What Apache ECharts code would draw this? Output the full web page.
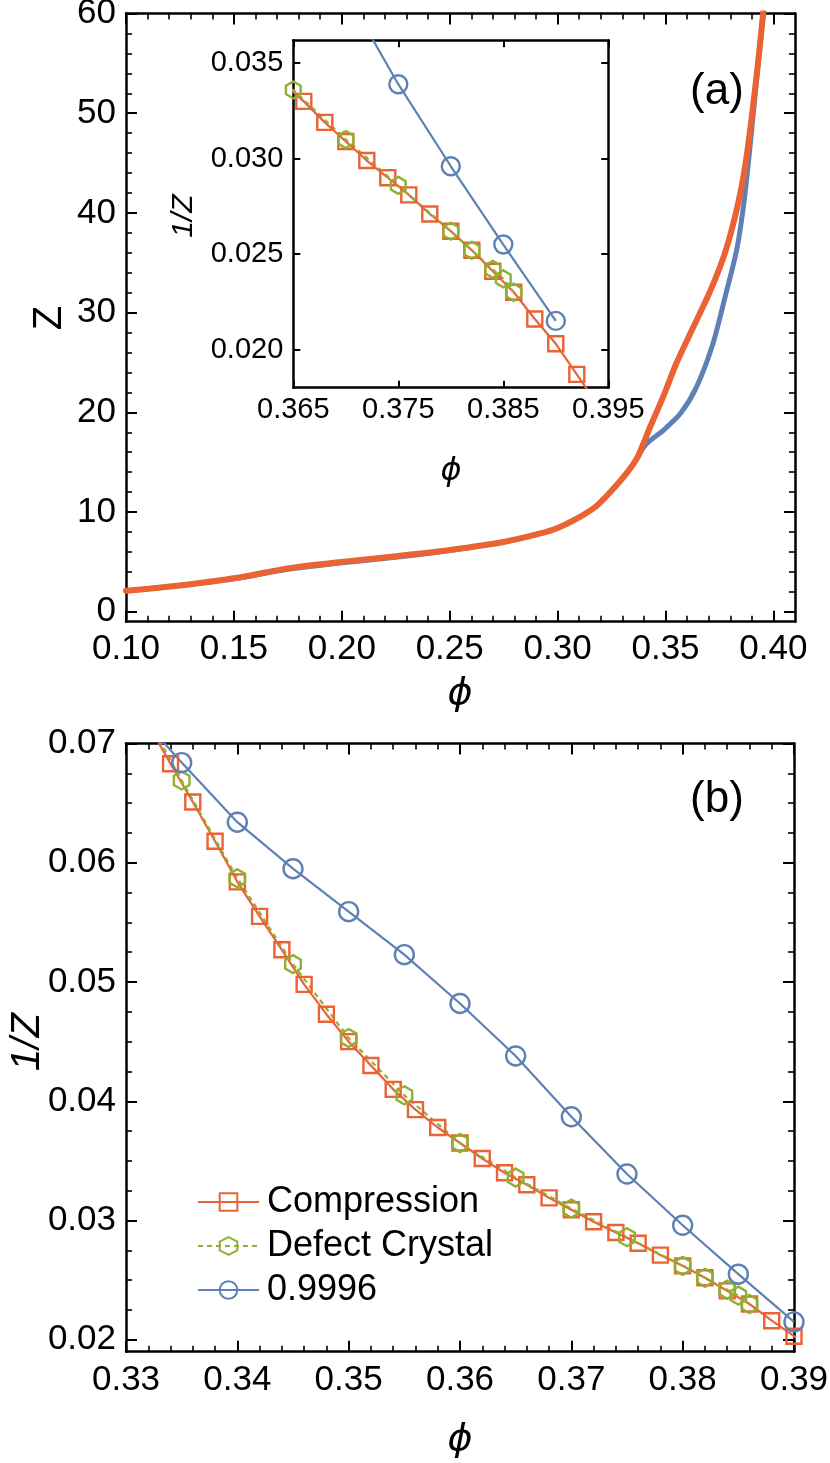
<!DOCTYPE html>
<html>
<head>
<meta charset="utf-8">
<title>Z and 1/Z versus packing fraction</title>
<script src="https://cdn.jsdelivr.net/npm/echarts@6/dist/echarts.min.js"></script>
<style>
  html, body { margin: 0; padding: 0; background: #fff; }
  #chart { width: 830px; height: 1463px; }
</style>
</head>
<body>
<div id="chart"></div>
<script>
// panel (a): Z against phi
const aCompPhi = [0.100, 0.115, 0.128, 0.150, 0.175, 0.200, 0.226, 0.250, 0.275, 0.292,
  0.300, 0.311, 0.318, 0.324, 0.332, 0.337, 0.343, 0.349, 0.355, 0.363,
  0.371, 0.378, 0.384, 0.388, 0.3935, 0.397];
const aCompZ = [2.1, 2.4, 2.7, 3.35, 4.35, 5.0, 5.6, 6.2, 7.0, 7.85,
  8.4, 9.6, 10.6, 11.9, 13.9, 15.5, 18.6, 21.6, 24.9, 28.6,
  32.3, 36.3, 41.3, 46.3, 56.3, 64];
const aFitPhi = [0.100, 0.115, 0.128, 0.150, 0.175, 0.200, 0.226, 0.250, 0.275, 0.292,
  0.300, 0.311, 0.318, 0.324, 0.332, 0.337, 0.3395, 0.343, 0.349, 0.357,
  0.3645, 0.372, 0.378, 0.383, 0.3865, 0.389, 0.3925, 0.396, 0.398];
const aFitZ = [2.1, 2.4, 2.7, 3.3, 4.25, 4.9, 5.5, 6.15, 7.0, 7.85,
  8.4, 9.6, 10.6, 11.9, 13.9, 15.4, 16.4, 17.2, 18.2, 19.9,
  22.6, 26.9, 31.9, 36.3, 41.3, 46.3, 54, 61.5, 66];

// panel (b) and the inset: 1/Z against phi
const compPhi = [0.332, 0.334, 0.336, 0.338, 0.340, 0.342, 0.344, 0.346, 0.348, 0.350,
  0.352, 0.354, 0.356, 0.358, 0.360, 0.362, 0.364, 0.366, 0.368, 0.370,
  0.372, 0.374, 0.376, 0.378, 0.380, 0.382, 0.384, 0.386, 0.388, 0.390,
  0.392, 0.394];
const compInvZ = [0.0716, 0.0683, 0.0651, 0.0618, 0.0584, 0.0555, 0.0527, 0.0498, 0.0473, 0.0450,
  0.0430, 0.0410, 0.0393, 0.0378, 0.0365, 0.0352, 0.0340, 0.0330, 0.0319, 0.0309,
  0.0299, 0.0290, 0.0281, 0.0271, 0.0262, 0.0252, 0.0241, 0.0230, 0.0216, 0.0203,
  0.0187, 0.0171];
const defectPhi = [0.333, 0.335, 0.340, 0.345, 0.350, 0.355, 0.360, 0.365, 0.370, 0.375,
  0.380, 0.382, 0.384, 0.385, 0.386];
const defectInvZ = [0.0703, 0.0669, 0.0587, 0.0515, 0.0453, 0.0405, 0.0365, 0.0336, 0.0310, 0.0286,
  0.0262, 0.0252, 0.0242, 0.0237, 0.0230];
const fitPhi = [0.330, 0.335, 0.340, 0.345, 0.350, 0.355, 0.360, 0.365, 0.370, 0.375,
  0.380, 0.385, 0.390];
const fitInvZ = [0.0736, 0.0684, 0.0634, 0.0595, 0.0559, 0.0523, 0.0482, 0.0438, 0.0387, 0.0339,
  0.0296, 0.0255, 0.0215];

const legendNames = ['Compression', 'Defect Crystal', '0.9996'];
const insetXLabels = ['0.365', '0.375', '0.385', '0.395'];

const FONT = '"Liberation Sans", Arial, sans-serif';
const ORANGE = '#EB6235';
const BLUE = '#5E81B5';
const GREEN = '#8FB131';
const HEX = 'path://M0,-10L8.66,-5L8.66,5L0,10L-8.66,5L-8.66,-5Z';
const CLEAR = 'rgba(0,0,0,0)';

// plot boxes in px
const boxA = { left: 126, top: 13.5, width: 669, height: 608.2 };
const boxIn = { left: 293.3, top: 40.3, width: 315, height: 347.4 };
const boxB = { left: 126, top: 743.5, width: 668, height: 608.2 };
const rangeAX = [0.10, 0.41], rangeAY = [-1, 60];
const rangeInX = [0.365, 0.395], rangeInY = [0.018, 0.0362];
const rangeBX = [0.33, 0.39], rangeBY = [0.019, 0.07];

// a box covering only the labelled part of an axis, so the ticks start on a round value
function xPart(box, range, a, b) {
  const k = box.width / (range[1] - range[0]);
  return { left: box.left + (a - range[0]) * k, width: (b - a) * k, top: box.top, height: box.height };
}
function yPart(box, range, a, b) {
  const k = box.height / (range[1] - range[0]);
  return { left: box.left, width: box.width, top: box.top + (range[1] - b) * k, height: (b - a) * k };
}
const grids = [
  boxA,                                   // 0 panel a data + frame
  xPart(boxA, rangeAX, 0.10, 0.40),       // 1 panel a x ticks
  yPart(boxA, rangeAY, 0, 60),            // 2 panel a y ticks
  boxIn,                                  // 3 inset data + frame
  boxIn,                                  // 4 inset x ticks
  yPart(boxIn, rangeInY, 0.020, 0.035),   // 5 inset y ticks
  boxB,                                   // 6 panel b data + frame + x ticks
  yPart(boxB, rangeBY, 0.02, 0.07)        // 7 panel b y ticks
].map(g => Object.assign({ containLabel: false, outerBoundsMode: 'none' }, g));

const frameLine = { show: true, onZero: false, lineStyle: { color: '#000', width: 2.5 } };

function frame(grid, pos, range) {
  return {
    type: 'value', gridIndex: grid, position: pos, min: range[0], max: range[1],
    axisLine: frameLine, axisTick: { show: false }, axisLabel: { show: false },
    splitLine: { show: false }
  };
}
function hidden(grid) {
  return { type: 'value', gridIndex: grid, show: false, splitLine: { show: false } };
}
function ticks(grid, pos, min, max, interval, minor, labelFmt, size, len) {
  return {
    type: 'value', gridIndex: grid, position: pos, min: min, max: max, interval: interval,
    axisLine: { show: false, onZero: false },
    axisTick: { show: true, inside: true, length: len, lineStyle: { color: '#000', width: 2 } },
    minorTick: { show: minor > 0, splitNumber: minor || 5, length: len * 0.55, lineStyle: { color: '#000', width: 1.6 } },
    axisLabel: {
      show: !!labelFmt, formatter: labelFmt, showMinLabel: true, showMaxLabel: true,
      color: '#000', fontFamily: FONT, fontSize: size, margin: 10
    },
    splitLine: { show: false }
  };
}
function catTicks(grid, pos, labels, showLabel) {
  return {
    type: 'category', gridIndex: grid, position: pos, data: labels, boundaryGap: false,
    axisLine: { show: false },
    axisTick: { show: true, inside: true, length: 7, interval: 0, lineStyle: { color: '#000', width: 2 } },
    axisLabel: { show: showLabel, interval: 0, color: '#000', fontFamily: FONT, fontSize: 29, margin: 8 },
    splitLine: { show: false }
  };
}
const fix = n => v => v.toFixed(n);

const panelB_x = (pos, lab) => Object.assign(frame(6, pos, rangeBX), {
  interval: 0.01,
  axisTick: { show: true, inside: true, length: 11, lineStyle: { color: '#000', width: 2 } },
  minorTick: { show: true, splitNumber: 5, length: 6, lineStyle: { color: '#000', width: 1.6 } },
  axisLabel: { show: lab, formatter: fix(2), color: '#000', fontFamily: FONT, fontSize: 35, margin: 11 }
});

const xAxes = [
  frame(0, 'bottom', rangeAX),                                   // 0
  frame(0, 'top', rangeAX),                                      // 1
  ticks(1, 'bottom', 0.10, 0.40, 0.05, 5, fix(2), 35, 11),       // 2
  ticks(1, 'top', 0.10, 0.40, 0.05, 5, null, 35, 11),            // 3
  hidden(2),                                                     // 4
  frame(3, 'bottom', rangeInX),                                  // 5
  frame(3, 'top', rangeInX),                                     // 6
  catTicks(4, 'bottom', insetXLabels, true),                     // 7
  catTicks(4, 'top', insetXLabels, false),                       // 8
  hidden(5),                                                     // 9
  panelB_x('bottom', true),                                      // 10
  panelB_x('top', false),                                        // 11
  hidden(7)                                                      // 12
];
const yAxes = [
  frame(0, 'left', rangeAY),                                     // 0
  frame(0, 'right', rangeAY),                                    // 1
  hidden(1),                                                     // 2
  ticks(2, 'left', 0, 60, 10, 5, v => String(v), 35, 11),        // 3
  ticks(2, 'right', 0, 60, 10, 5, null, 35, 11),                 // 4
  frame(3, 'left', rangeInY),                                    // 5
  frame(3, 'right', rangeInY),                                   // 6
  hidden(4),                                                     // 7
  ticks(5, 'left', 0.020, 0.035, 0.005, 0, fix(3), 29, 7),       // 8
  ticks(5, 'right', 0.020, 0.035, 0.005, 0, null, 29, 7),        // 9
  frame(6, 'left', rangeBY),                                     // 10
  frame(6, 'right', rangeBY),                                    // 11
  ticks(7, 'left', 0.02, 0.07, 0.01, 4, fix(2), 35, 11),         // 12
  ticks(7, 'right', 0.02, 0.07, 0.01, 4, null, 35, 11)           // 13
];

const zip = (xs, ys) => xs.map((x, i) => [x, ys[i]]);

function curve(name, xs, ys, color, width) {
  return {
    name: name, type: 'line', xAxisIndex: 0, yAxisIndex: 0, data: zip(xs, ys),
    showSymbol: false, symbol: 'none', smooth: 0.25, clip: true,
    lineStyle: { color: color, width: width, join: 'round', cap: 'round' }, silent: true
  };
}
function marked(name, xs, ys, color, symbol, size, dashed, xi, yi) {
  return {
    name: name, type: 'line', xAxisIndex: xi, yAxisIndex: yi, data: zip(xs, ys),
    symbol: symbol, symbolSize: size, symbolKeepAspect: true, showAllSymbol: true, clip: true,
    lineStyle: { color: color, width: 2.2, type: dashed ? [5, 4] : 'solid' },
    itemStyle: { color: CLEAR, borderColor: color, borderWidth: 2.4 },
    silent: true
  };
}

const series = [
  curve('Z 0.9996', aFitPhi, aFitZ, BLUE, 5),
  curve('Z Compression', aCompPhi, aCompZ, ORANGE, 6),
  marked('Compression', compPhi, compInvZ, ORANGE, 'rect', 15, false, 10, 10),
  marked('Defect Crystal', defectPhi, defectInvZ, GREEN, HEX, 18, true, 10, 10),
  marked('0.9996', fitPhi, fitInvZ, BLUE, 'circle', 19, false, 10, 10),
  marked('Compression', compPhi, compInvZ, ORANGE, 'rect', 15, false, 5, 5),
  marked('Defect Crystal', defectPhi, defectInvZ, GREEN, HEX, 17, true, 5, 5),
  marked('0.9996', fitPhi, fitInvZ, BLUE, 'circle', 18, false, 5, 5)
];

function label(text, x, y, font, rotate) {
  return {
    type: 'text', x: x, y: y, rotation: rotate ? Math.PI / 2 : 0, silent: true,
    style: { text: text, font: font, fill: '#000', align: 'center', verticalAlign: 'middle' }
  };
}

const chart = echarts.init(document.getElementById('chart'), null, { renderer: 'canvas' });
chart.setOption({
  animation: false,
  backgroundColor: '#fff',
  grid: grids,
  xAxis: xAxes,
  yAxis: yAxes,
  series: series,
  legend: {
    data: legendNames, orient: 'vertical', left: 197, top: 1184, padding: 0,
    itemWidth: 61, itemHeight: 22, itemGap: 8, selectedMode: false,
    textStyle: { fontFamily: FONT, fontSize: 36, lineHeight: 36, color: '#000', padding: [0, 0, 0, 3] }
  },
  graphic: [
    label('Z', 50, 318, '40px ' + FONT, true),
    label('\u03D5', 460, 694, 'italic 38px "DejaVu Sans"', false),
    label('(a)', 717, 92, '44px ' + FONT, false),
    label('1/Z', 184, 216, 'italic 30px ' + FONT, true),
    label('\u03D5', 451, 472, 'italic 32px "DejaVu Sans"', false),
    label('(b)', 717, 800, '44px ' + FONT, false),
    label('1/Z', 28, 1042, 'italic 40px ' + FONT, true),
    label('\u03D5', 460, 1440, 'italic 38px "DejaVu Sans"', false)
  ]
});
</script>
</body>
</html>
